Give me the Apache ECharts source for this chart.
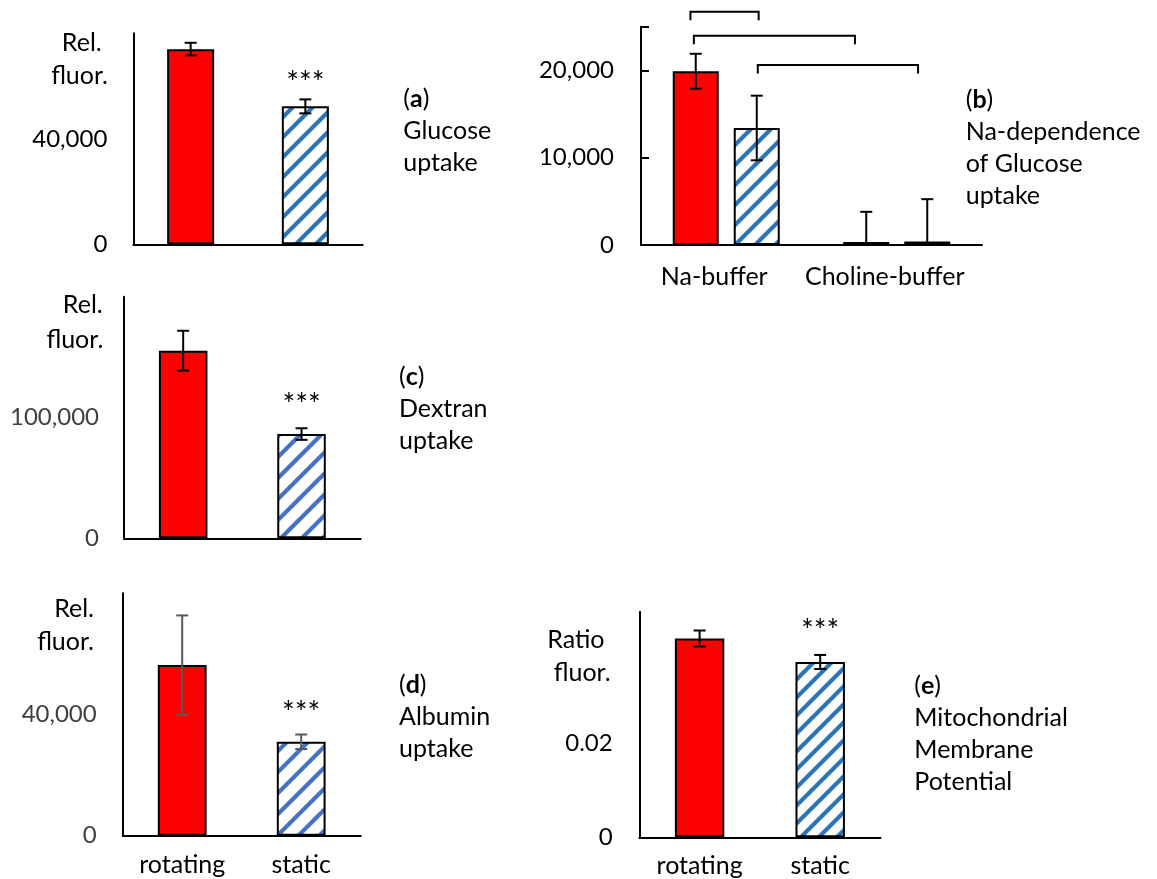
<!DOCTYPE html>
<html><head><meta charset="utf-8">
<script src="https://cdn.jsdelivr.net/npm/echarts@6/dist/echarts.min.js"></script>
<style>html,body{margin:0;padding:0;background:#fff}#c{width:1157px;height:879px}</style>
</head><body><div id="c"></div>
<script>
// ---------------- data ----------------
const groups = ['rotating', 'static'];
const bufferCats = ['Na-buffer', 'Choline-buffer'];
const glucoseMean = [74000, 52300];
const glucoseErr = [2400, 2650];
const naRotMean = [19900, 350];
const naRotErr = [2000, 3450];
const naStatMean = [13400, 400];
const naStatErr = [3700, 4850];
const dextranMean = [155300, 86300];
const dextranErr = [16500, 4800];
const albuminMean = [56300, 31000];
const albuminErr = [16400, 2400];
const mmpMean = [0.0423, 0.0373];
const mmpErr = [0.0017, 0.0015];
const sigMarks = ['', '***'];
const ticksA = [0, 40000];
const ticksB = [0, 10000, 20000];
const ticksC = [0, 100000];
const ticksD = [0, 40000];
const ticksE = [0, 0.02];
// significance brackets of panel (b): ends in category units, level in data units
const bracketFrom = [-0.21, -0.19, 0.185];
const bracketTo = [0.19, 0.755, 1.125];
const bracketLevel = [26700, 23970, 20620];

// ---------------- styles ----------------
const FONT = 'Lato';
const RED = '#FF0000';
function hatch(color, s) {
  const c = document.createElement('canvas');
  c.width = c.height = s;
  const g = c.getContext('2d');
  g.fillStyle = '#fff'; g.fillRect(0, 0, s, s);
  g.strokeStyle = color; g.lineWidth = 4.2;
  g.beginPath();
  for (const o of [-s, 0, s]) { g.moveTo(o - s, 2 * s); g.lineTo(o + 2 * s, -s); }
  g.stroke();
  return { image: c, repeat: 'repeat' };
}
const hatchBlue = hatch('#2E75B6', 20);
const hatchBlueE = hatch('#2E75B6', 18);
const hatchIndigo = hatch('#4472C4', 21);

function fmt(v) {
  if (v === 0) return '0';
  if (v < 1) return v.toFixed(2);
  return v.toLocaleString('en-US');
}
const grids = [
  { left: 133.3, top: 33.3, width: 229.4, height: 211 },
  { left: 641, top: 26.7, width: 341, height: 218.3 },
  { left: 124, top: 296.7, width: 236.7, height: 241.6 },
  { left: 122.7, top: 593.3, width: 238, height: 242.4 },
  { left: 639.3, top: 611.7, width: 241.2, height: 225.6 }
];
function yAx(gi, max, interval, shown, color, margin, tick) {
  return {
    type: 'value', gridIndex: gi, min: 0, max: max, interval: interval,
    splitLine: { show: false },
    axisLine: { show: true, lineStyle: { color: '#000', width: 2 } },
    axisTick: { show: !!tick, inside: true, length: 8, lineStyle: { color: '#000', width: 2 } },
    axisLabel: {
      margin: margin, color: color, fontSize: 24, fontFamily: FONT,
      formatter: v => shown.some(s => Math.abs(s - v) < 1e-9) ? fmt(v) : ''
    }
  };
}
function xAx(gi, cats, showLabel, margin, padRight) {
  return {
    type: 'category', gridIndex: gi, data: cats,
    axisLine: { show: true, lineStyle: { color: '#000', width: 2 } },
    axisTick: { show: false },
    axisLabel: {
      show: showLabel, margin: margin, color: '#000', fontSize: 25, fontFamily: FONT, interval: 0,
      padding: [0, padRight || 0, 0, 0]
    }
  };
}
function barSeries(gi, means, fills, sigDist) {
  return {
    type: 'bar', xAxisIndex: gi, yAxisIndex: gi, barWidth: '41%',
    data: means.map((v, i) => ({ value: v, itemStyle: { color: fills[i] } })),
    itemStyle: { borderColor: '#000', borderWidth: 2 },
    label: {
      show: true, position: 'top', distance: sigDist, color: '#000', fontSize: 30, fontFamily: FONT,
      formatter: p => sigMarks[p.dataIndex]
    },
    z: 2
  };
}
function errRender(offset, color, capHalf) {
  return function (params, api) {
    const x = api.value(0), lo = api.value(1), hi = api.value(2);
    const pHi = api.coord([x, hi]);
    const clipped = lo < 0;
    const yLo = clipped ? api.coord([x, 0])[1] : api.coord([x, lo])[1];
    const cx = pHi[0] + offset;
    const style = { stroke: color, lineWidth: 2 };
    const children = [
      { type: 'line', shape: { x1: cx, y1: pHi[1], x2: cx, y2: yLo }, style: style },
      { type: 'line', shape: { x1: cx - capHalf, y1: pHi[1], x2: cx + capHalf, y2: pHi[1] }, style: style }
    ];
    if (!clipped) children.push({ type: 'line', shape: { x1: cx - capHalf, y1: yLo, x2: cx + capHalf, y2: yLo }, style: style });
    return { type: 'group', children: children };
  };
}
function errSeries(gi, means, errs, offset, color) {
  return {
    type: 'custom', xAxisIndex: gi, yAxisIndex: gi,
    renderItem: errRender(offset, color, 6),
    encode: { x: 0, y: [1, 2] },
    data: means.map((m, i) => [i, m - errs[i], m + errs[i]]),
    z: 5, silent: true
  };
}
// panel (b) grouped bar geometry
const barWB = 46, gapB = 15;
const offB = (barWB + gapB) / 2;

const textStyle = { fontFamily: FONT, fontSize: 25, fill: '#000' };
function txt(x, y, text, align) {
  return { type: 'text', x: x, y: y, style: Object.assign({}, textStyle, { text: text, align: align || 'right', verticalAlign: 'middle' }) };
}
function panelLabel(x, yFirst, letter, lines) {
  return {
    type: 'text', x: x, y: yFirst - 16,
    style: Object.assign({}, textStyle, {
      text: '({b|' + letter + '})\n' + lines.join('\n'),
      align: 'left', verticalAlign: 'top', lineHeight: 32,
      rich: { b: { fontFamily: FONT, fontSize: 25, fontWeight: 'bold', lineHeight: 32, fill: '#000' } }
    })
  };
}
const texts = [
  txt(101.7, 42.7, 'Rel.'), txt(108, 76, 'fluor.'),
  txt(102.7, 305, 'Rel.'), txt(103.3, 340, 'fluor.'),
  txt(94, 609.3, 'Rel.'), txt(94, 642.3, 'fluor.'),
  txt(604.5, 640, 'Ratio'), txt(610.6, 673.3, 'fluor.'),
  panelLabel(403.3, 99.3, 'a', ['Glucose', 'uptake']),
  panelLabel(965.7, 100, 'b', ['Na-dependence', 'of Glucose', 'uptake']),
  panelLabel(399, 377.3, 'c', ['Dextran', 'uptake']),
  panelLabel(399, 685, 'd', ['Albumin', 'uptake']),
  panelLabel(914.3, 685.7, 'e', ['Mitochondrial', 'Membrane', 'Potential'])
];

const option = {
  animation: false,
  backgroundColor: '#fff',
  grid: grids,
  xAxis: [
    xAx(0, groups, false, 18),
    xAx(1, bufferCats, true, 19, 24),
    xAx(2, groups, false, 18),
    xAx(3, groups, true, 17),
    xAx(4, groups, true, 16)
  ],
  yAxis: [
    yAx(0, 80000, 40000, ticksA, '#000', 26, false),
    yAx(1, 25000, 10000, ticksB, '#000', 27, true),
    yAx(2, 200000, 100000, ticksC, '#404040', 25, false),
    yAx(3, 80000, 40000, ticksD, '#404040', 26, false),
    yAx(4, 0.048, 0.02, ticksE, '#000', 26.6, false)
  ],
  series: [
    barSeries(0, glucoseMean, [RED, hatchBlue], 8),
    errSeries(0, glucoseMean, glucoseErr, 0, '#000'),
    {
      type: 'bar', xAxisIndex: 1, yAxisIndex: 1, barWidth: barWB, barGap: (gapB / barWB * 100) + '%',
      data: naRotMean, itemStyle: { color: RED, borderColor: '#000', borderWidth: 2 }, z: 2
    },
    {
      type: 'bar', xAxisIndex: 1, yAxisIndex: 1, barWidth: barWB,
      data: naStatMean, itemStyle: { color: hatchBlue, borderColor: '#000', borderWidth: 2 }, z: 2
    },
    errSeries(1, naRotMean, naRotErr, -offB, '#000'),
    errSeries(1, naStatMean, naStatErr, offB, '#000'),
    barSeries(2, dextranMean, [RED, hatchIndigo], 14),
    errSeries(2, dextranMean, dextranErr, 0, '#000'),
    barSeries(3, albuminMean, [RED, hatchIndigo], 13),
    errSeries(3, albuminMean, albuminErr, 0, '#595959'),
    barSeries(4, mmpMean, [RED, hatchBlueE], 16),
    errSeries(4, mmpMean, mmpErr, 0, '#000')
  ],
  graphic: texts
};

const chart = echarts.init(document.getElementById('c'), null, { renderer: 'canvas' });
chart.setOption(option);

// brackets in panel (b), positioned through the grid's own scales
const c0 = chart.convertToPixel({ gridIndex: 1 }, [0, 0]);
const c1 = chart.convertToPixel({ gridIndex: 1 }, [1, 0]);
const band = c1[0] - c0[0];
const LEG = 8.5;
const bracketEls = bracketLevel.map((lv, i) => {
  const y = chart.convertToPixel({ gridIndex: 1 }, [0, lv])[1];
  const xa = c0[0] + bracketFrom[i] * band;
  const xb = c0[0] + bracketTo[i] * band;
  return {
    type: 'polyline',
    shape: { points: [[xa, y + LEG], [xa, y], [xb, y], [xb, y + LEG]] },
    style: { stroke: '#000', lineWidth: 2, fill: null }
  };
});
chart.setOption({ graphic: texts.concat(bracketEls) });
</script></body></html>
